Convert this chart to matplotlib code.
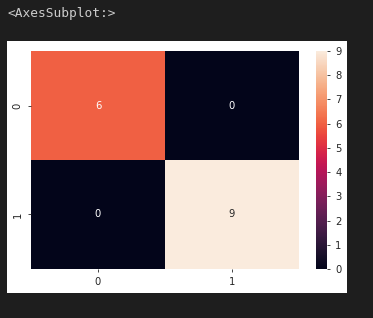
import matplotlib
matplotlib.use('Agg')
import matplotlib.pyplot as plt
import seaborn as sns
import numpy as np
from matplotlib.patches import Rectangle

# confusion matrix values
conf_matrix = np.array([[6, 0],
                        [0, 9]])
x_labels = ['0', '1']
y_labels = ['0', '1']
output_text = '<AxesSubplot:>'

fig = plt.figure(figsize=(3.73, 3.18), dpi=100, facecolor='#1e1e1e')

# white output cell area of the notebook
fig.patches.append(Rectangle((0.0188, 0.0786), 0.9115, 0.7925,
                             transform=fig.transFigure, facecolor='white',
                             edgecolor='none', zorder=-5))

fig.text(0.0188, 0.9575, output_text, family='DejaVu Sans Mono',
         fontsize=9.3, color='#cccccc', ha='left', va='center')

ax = fig.add_axes([0.0831, 0.1541, 0.7185, 0.6855])
cax = fig.add_axes([0.8472, 0.1541, 0.0295, 0.6855])

sns.heatmap(conf_matrix, annot=True, ax=ax, cbar_ax=cax,
            xticklabels=x_labels, yticklabels=y_labels,
            annot_kws={'fontsize': 7.2})

ax.tick_params(labelsize=7.2, length=2.5, width=0.6, colors='#262626')
ax.tick_params(axis='y', labelrotation=90)
for t in ax.get_yticklabels():
    t.set_va('center')
cax.tick_params(labelsize=7.2, length=2.5, width=0.6, colors='#262626')
cax.set_yticks(range(0, 10))

fig.savefig('out.png', dpi=100, facecolor=fig.get_facecolor())
